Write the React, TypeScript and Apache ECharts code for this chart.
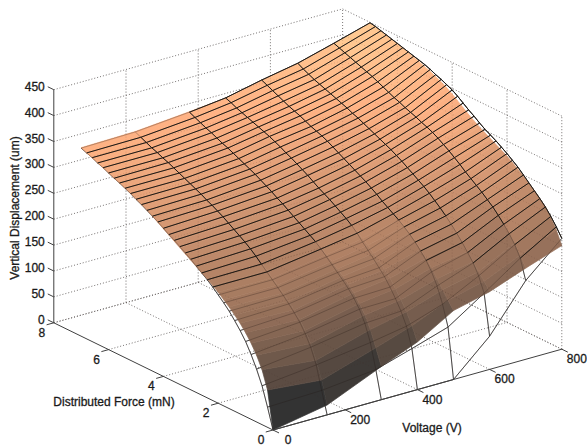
import React, { useEffect, useRef } from "react";
import * as echarts from "echarts";

const voltages = [0, 150, 300, 400, 500, 600, 700, 800];
const forces = [0, 0.2, 0.4, 0.6, 0.8, 1, 1.2, 1.4, 1.6, 1.8, 2, 2.2, 2.4, 2.6, 2.8, 3, 3.2, 3.4, 3.6, 3.8, 4, 4.2, 4.4, 4.6, 4.8, 5, 5.2, 5.4, 5.6, 5.8, 6, 6.2, 6.4, 6.6, 6.8, 7];

const meshZ = [
  [0, 0, 0, 0, 0, 64, 152, 214],
  [39, 42, 53, 74, 96, 142, 190, 231],
  [75, 86, 100, 112, 135, 170, 211, 246],
  [102, 115, 132, 136, 165, 190, 227, 259],
  [125, 136, 154, 155, 187, 205, 240, 270],
  [145, 153, 170, 172, 204, 219, 252, 280],
  [161, 166, 183, 187, 217, 232, 263, 290],
  [175, 178, 194, 199, 229, 244, 272, 300],
  [188, 189, 204, 211, 239, 255, 281, 310],
  [199, 199, 214, 222, 248, 265, 289, 318],
  [209, 209, 224, 233, 256, 274, 297, 326],
  [219, 219, 234, 245, 263, 283, 305, 333],
  [228, 229, 243, 255, 270, 291, 314, 340],
  [236, 239, 250, 263, 277, 298, 322, 346],
  [244, 248, 257, 270, 285, 305, 330, 352],
  [252, 256, 264, 277, 292, 312, 337, 359],
  [259, 263, 271, 284, 299, 319, 344, 367],
  [266, 270, 278, 290, 305, 325, 350, 374],
  [273, 277, 285, 296, 311, 331, 355, 382],
  [279, 284, 291, 303, 317, 336, 359, 390],
  [286, 290, 298, 310, 323, 341, 364, 397],
  [293, 296, 304, 316, 329, 346, 368, 402],
  [299, 301, 310, 322, 335, 351, 372, 407],
  [305, 307, 316, 328, 341, 356, 377, 411],
  [311, 312, 321, 333, 346, 361, 381, 416],
  [316, 317, 326, 339, 350, 365, 386, 420],
  [322, 322, 331, 344, 354, 370, 391, 423],
  [327, 327, 336, 349, 359, 374, 396, 426],
  [332, 332, 341, 353, 364, 378, 401, 429],
  [336, 337, 345, 357, 368, 382, 405, 432],
  [341, 341, 350, 361, 372, 386, 409, 435],
  [346, 346, 355, 365, 377, 390, 413, 438],
  [350, 350, 359, 369, 382, 394, 417, 441],
  [355, 355, 364, 373, 387, 399, 421, 444],
  [359, 360, 369, 378, 392, 404, 425, 447],
  [363, 365, 374, 382, 397, 410, 429, 449],
];

const surfaceZ = [
  [0, 19, 64, 92, 133, 150, 176, 200],
  [72, 62, 95, 118, 148, 165, 196, 225],
  [106, 95, 125, 140, 163, 178, 214, 245],
  [129, 122, 148, 158, 179, 193, 229, 259],
  [147, 142, 165, 174, 195, 207, 241, 270],
  [162, 158, 180, 189, 208, 221, 251, 280],
  [175, 172, 192, 201, 221, 234, 261, 289],
  [186, 183, 202, 212, 232, 246, 270, 298],
  [196, 194, 211, 222, 242, 256, 279, 306],
  [205, 204, 220, 232, 250, 264, 286, 314],
  [214, 213, 228, 240, 256, 272, 294, 321],
  [222, 222, 236, 248, 260, 280, 301, 327],
  [229, 230, 243, 255, 266, 287, 308, 333],
  [236, 238, 249, 261, 273, 294, 316, 339],
  [243, 246, 255, 267, 281, 300, 324, 345],
  [250, 254, 261, 274, 289, 307, 332, 351],
  [257, 261, 268, 280, 295, 314, 338, 358],
  [264, 267, 275, 287, 302, 321, 344, 365],
  [271, 274, 282, 293, 308, 327, 350, 373],
  [278, 281, 289, 299, 314, 332, 354, 381],
  [285, 287, 296, 306, 319, 337, 359, 389],
  [292, 293, 302, 313, 325, 342, 364, 396],
  [299, 299, 308, 319, 331, 347, 369, 402],
  [305, 305, 314, 325, 337, 352, 374, 407],
  [311, 311, 319, 331, 343, 357, 379, 412],
  [316, 316, 324, 337, 348, 362, 384, 416],
  [322, 321, 329, 342, 352, 367, 388, 420],
  [327, 326, 334, 346, 356, 371, 393, 424],
  [332, 331, 339, 350, 361, 375, 397, 428],
  [336, 336, 343, 354, 366, 379, 402, 431],
  [341, 341, 348, 358, 370, 383, 406, 434],
  [346, 346, 353, 363, 375, 387, 410, 437],
  [350, 350, 357, 367, 380, 392, 414, 440],
  [355, 355, 362, 371, 385, 397, 418, 443],
  [359, 360, 367, 376, 390, 402, 423, 446],
  [364, 366, 375, 381, 396, 409, 428, 448],
];

const voltageTicks = [0, 200, 400, 600, 800];
const forceTicks = [0, 2, 4, 6, 8];
const zTicks = [0, 50, 100, 150, 200, 250, 300, 350, 400, 450];
const V_MAX = 800;
const F_MAX = 8;
const Z_MAX = 450;
const FONT = '"Liberation Sans", Arial, sans-serif';

type P3 = [number, number, number];
const project = (v: number, f: number, z: number): [number, number] => [
  273 + 0.361 * v - 27.4 * f,
  430 - 0.101 * v - 13.4 * f - 0.518 * z,
];

const gridSegments: P3[][] = [];
for (const z of zTicks) {
  gridSegments.push([[0, F_MAX, z], [V_MAX, F_MAX, z]]);
  gridSegments.push([[V_MAX, F_MAX, z], [V_MAX, 0, z]]);
}
for (const v of voltageTicks) {
  if (v > 0) gridSegments.push([[v, F_MAX, 0], [v, F_MAX, Z_MAX]]);
  if (v > 0) gridSegments.push([[v, 0, 0], [v, F_MAX, 0]]);
}
for (const f of forceTicks) {
  if (f < F_MAX) gridSegments.push([[V_MAX, f, 0], [V_MAX, f, Z_MAX]]);
  if (f > 0) gridSegments.push([[0, f, 0], [V_MAX, f, 0]]);
}

const axisSegments: P3[][] = [
  [[0, 0, 0], [0, F_MAX, 0]],
  [[0, 0, 0], [V_MAX, 0, 0]],
  [[0, F_MAX, 0], [0, F_MAX, Z_MAX]],
];
zTicks.forEach((z) => axisSegments.push([[0, F_MAX, z], [0, F_MAX + 0.22, z]]));
forceTicks.forEach((f) => axisSegments.push([[0, f, 0], [-20, f, 0]]));
voltageTicks.forEach((v) => axisSegments.push([[v, 0, 0], [v, -0.22, 0]]));

const allWire: P3[][] = [];
const topWire: P3[][] = [];
forces.forEach((f, r) => {
  voltages.forEach((v, c) => {
    if (c + 1 < voltages.length) {
      const seg: P3[] = [[v, f, meshZ[r][c]], [voltages[c + 1], f, meshZ[r][c + 1]]];
      allWire.push(seg);
      if (r > 0 && meshZ[r][c] + meshZ[r][c + 1] >= surfaceZ[r][c] + surfaceZ[r][c + 1] - (r < 35 ? 6 : 0)) topWire.push(seg);
    }
    if (r + 1 < forces.length) {
      const seg: P3[] = [[v, f, meshZ[r][c]], [v, forces[r + 1], meshZ[r + 1][c]]];
      allWire.push(seg);
      if (c > 0 && meshZ[r][c] + meshZ[r + 1][c] >= surfaceZ[r][c] + surfaceZ[r + 1][c]) topWire.push(seg);
    }
  });
});

const cells: number[][] = [];
forces.forEach((_, r) => {
  if (r + 1 < forces.length) voltages.forEach((_, c) => { if (c + 1 < voltages.length) cells.push([r, c]); });
});

const ALPHA = 0.8;
const copper = (z: number) => {
  const x = Math.min(1, z / Z_MAX);
  const mix = (k: number) => Math.round(255 * Math.min(1, k) * ALPHA + 255 * (1 - ALPHA));
  return `rgb(${mix(1.25 * x)},${mix(0.7812 * x)},${mix(0.4975 * x)})`;
};

type Label = { text: string; x: number; y: number; align?: string; rotation?: number };
const labelPositions = (): Label[] => {
  const out: Label[] = [];
  zTicks.forEach((z) => {
    const [x, y] = project(0, F_MAX, z);
    out.push({ text: String(z), x: x - 9, y: y - 3, align: "right" });
  });
  forceTicks.forEach((f) => {
    const [x, y] = project(0, f, 0);
    out.push({ text: String(f), x: x - 12, y: y + 10 });
  });
  voltageTicks.forEach((v) => {
    const [x, y] = project(v, 0, 0);
    out.push({ text: String(v), x: x + 15, y: y + 10 });
  });
  out.push({ text: "Vertical Displacement (um)", x: 15, y: 208, rotation: Math.PI / 2 });
  out.push({ text: "Distributed Force (mN)", x: 114, y: 402 });
  out.push({ text: "Voltage (V)", x: 432, y: 428 });
  return out;
};

const lineSeries = (segs: P3[][], z: number, stroke: string, width: number, dash?: number[]) => ({
  type: "custom",
  coordinateSystem: "cartesian2d",
  silent: true,
  clip: false,
  z,
  data: segs.map((_, i) => [i]),
  renderItem: (_: any, api: any) => {
    const seg = segs[api.value(0)];
    const a = api.coord(project(seg[0][0], seg[0][1], seg[0][2]));
    const b = api.coord(project(seg[1][0], seg[1][1], seg[1][2]));
    return {
      type: "line",
      shape: { x1: a[0], y1: a[1], x2: b[0], y2: b[1] },
      style: { stroke, lineWidth: width, lineDash: dash, fill: "none" },
    };
  },
});

export default function App() {
  const ref = useRef<HTMLDivElement>(null);
  useEffect(() => {
    document.body.style.margin = "0";
    const chart = echarts.init(ref.current!, null, { renderer: "svg" });
    const labels = labelPositions();
    chart.setOption({
      animation: false,
      backgroundColor: "#ffffff",
      grid: { left: 0, top: 0, width: 587, height: 446 },
      xAxis: { type: "value", min: 0, max: 587, show: false },
      yAxis: { type: "value", min: 0, max: 446, inverse: true, show: false },
      series: [
        lineSeries(gridSegments, 1, "#8c8c8c", 1, [1, 2]),
        lineSeries(allWire, 2, "#4a4a4a", 0.9),
        {
          type: "custom",
          coordinateSystem: "cartesian2d",
          silent: true,
          clip: false,
          z: 3,
          data: cells,
          renderItem: (_: any, api: any) => {
            const r = api.value(0);
            const c = api.value(1);
            const corners: [number, number][] = [[r, c], [r, c + 1], [r + 1, c + 1], [r + 1, c]];
            const pts = corners.map(([i, j]) => api.coord(project(voltages[j], forces[i], surfaceZ[i][j])));
            const color = copper(surfaceZ[r][c]);
            return {
              type: "polygon",
              shape: { points: pts },
              style: { fill: color, stroke: color, lineWidth: 0.7 },
            };
          },
        },
        lineSeries(gridSegments, 4, "rgba(60,40,30,0.16)", 1, [1, 2]),
        lineSeries(allWire, 4, "rgba(30,20,15,0.3)", 0.9),
        lineSeries(axisSegments, 5, "#404040", 1),
        lineSeries(topWire, 5, "#1f1a15", 1),
        {
          type: "custom",
          coordinateSystem: "cartesian2d",
          silent: true,
          clip: false,
          z: 6,
          data: labels.map((_, i) => [i]),
          renderItem: (_: any, api: any) => {
            const l = labels[api.value(0)];
            const p = api.coord([l.x, l.y]);
            return {
              type: "text",
              x: p[0],
              y: p[1],
              rotation: l.rotation || 0,
              style: {
                text: l.text,
                fill: "#1a1a1a",
                stroke: "#1a1a1a",
                lineWidth: 0.3,
                font: `12px ${FONT}`,
                textAlign: l.align || "center",
                textVerticalAlign: "middle",
              },
            };
          },
        },
      ],
    });
    return () => chart.dispose();
  }, []);
  return <div ref={ref} style={{ width: 587, height: 446 }} />;
}
